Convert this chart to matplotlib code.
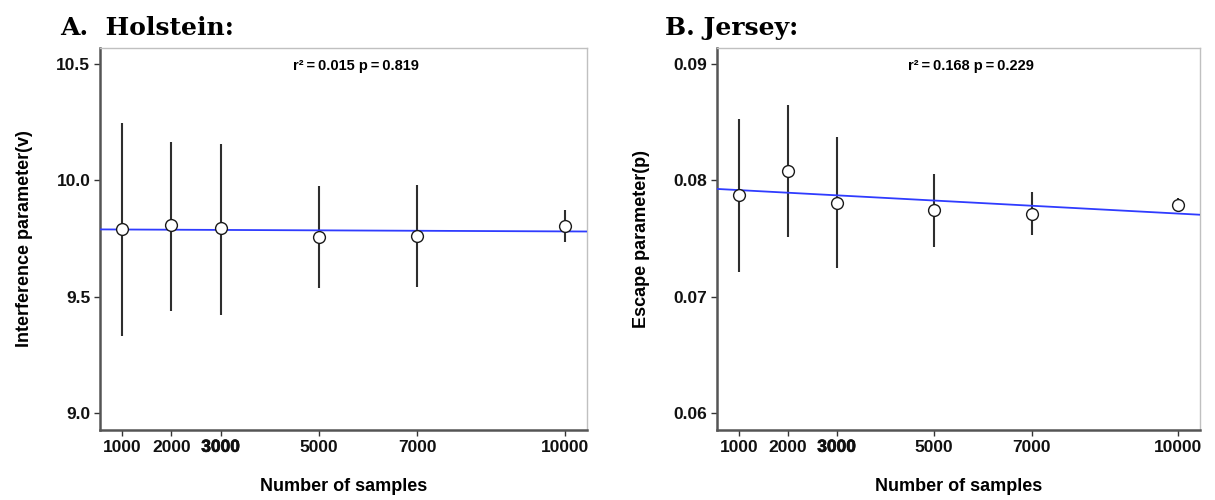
import numpy as np
import matplotlib
matplotlib.use("Agg")
import matplotlib.pyplot as plt
import matplotlib.patheffects as pe

# ---- data ----
samples = [1000, 2000, 3000, 5000, 7000, 10000]
xtick_labels = ["1000", "2000", "3000", "5000", "7000", "10000"]

holstein_mean = [9.789, 9.807, 9.794, 9.758, 9.761, 9.804]
holstein_low = [9.33, 9.44, 9.42, 9.536, 9.541, 9.735]
holstein_high = [10.245, 10.166, 10.158, 9.976, 9.980, 9.872]

jersey_mean = [0.0787, 0.0808, 0.07808, 0.07742, 0.07714, 0.07791]
jersey_low = [0.07215, 0.07516, 0.07250, 0.07428, 0.07527, 0.07731]
jersey_high = [0.08524, 0.08648, 0.08372, 0.08057, 0.07900, 0.07845]

holstein_yticks = [9.0, 9.5, 10.0, 10.5]
holstein_yticklabels = ["9.0", "9.5", "10.0", "10.5"]
jersey_yticks = [0.06, 0.07, 0.08, 0.09]
jersey_yticklabels = ["0.06", "0.07", "0.08", "0.09"]

holstein_stats = "r\u00b2\u2009=\u20090.015 p\u2009=\u20090.819"
jersey_stats = "r\u00b2\u2009=\u20090.168 p\u2009=\u20090.229"

plt.rcParams['font.family'] = ['Liberation Sans', 'DejaVu Sans']

fig = plt.figure(figsize=(12.15, 5.0), dpi=100)
ax1 = fig.add_axes([100/1215, 1-430/500, 487/1215, 382/500])
ax2 = fig.add_axes([717/1215, 1-430/500, 483/1215, 382/500])

def panel(ax, mean, low, high, yticks, yticklabels, ylim, ylabel, stats, stats_y):
    x = np.array(samples, dtype=float)
    m = np.array(mean)
    ax.vlines(x, low, high, colors='#2e2e2e', linewidth=1.5, zorder=2)
    ax.plot(x, m, 'o', ms=8.5, mfc='white', mec='#1a1a1a', mew=1.0, zorder=4)
    coef = np.polyfit(x, m, 1)
    xl = np.array([550, 10450])
    ax.plot(xl, np.polyval(coef, xl), color='#2f3cff', lw=1.3, zorder=3)
    ax.set_xlim(550, 10450)
    ax.set_ylim(*ylim)
    ax.set_xticks(samples)
    ax.set_xticklabels(xtick_labels)
    ax.set_yticks(yticks)
    ax.set_yticklabels(yticklabels)
    for lab in ax.get_xticklabels() + ax.get_yticklabels():
        lab.set_fontweight('bold')
        lab.set_fontsize(12.5)
        lab.set_color('#111111')
    ax.get_xticklabels()[2].set_path_effects([pe.withStroke(linewidth=0.5, foreground='#111111')])
    ax.tick_params(direction='out', length=4, width=1.0, color='#333333', pad=3)
    for s in ['top', 'right']:
        ax.spines[s].set_color('#c0c0c0')
        ax.spines[s].set_linewidth(1.0)
    for s in ['left', 'bottom']:
        ax.spines[s].set_color('#555555')
        ax.spines[s].set_linewidth(1.8)
    ax.set_xlabel('Number of samples', fontsize=13, fontweight='bold', labelpad=17)
    ax.set_ylabel(ylabel, fontsize=13, fontweight='bold', labelpad=17)
    ax.text(5750, stats_y, stats, ha='center', va='center', fontsize=10.5,
            fontweight='bold', family=['Liberation Sans', 'DejaVu Sans'])

panel(ax1, holstein_mean, holstein_low, holstein_high, holstein_yticks,
      holstein_yticklabels, (8.927, 10.569), 'Interference parameter(v)', holstein_stats, 10.49)
panel(ax2, jersey_mean, jersey_low, jersey_high, jersey_yticks,
      jersey_yticklabels, (0.05854, 0.09138), 'Escape parameter(p)', jersey_stats, 0.0898)

fig.text(60/1215, 1-28/500, 'A.  Holstein:', fontsize=18, fontweight='bold',
         family=['DejaVu Serif'], va='center', ha='left')
fig.text(665/1215, 1-28/500, 'B. Jersey:', fontsize=18, fontweight='bold',
         family=['DejaVu Serif'], va='center', ha='left')

fig.savefig('out.png', dpi=100)
